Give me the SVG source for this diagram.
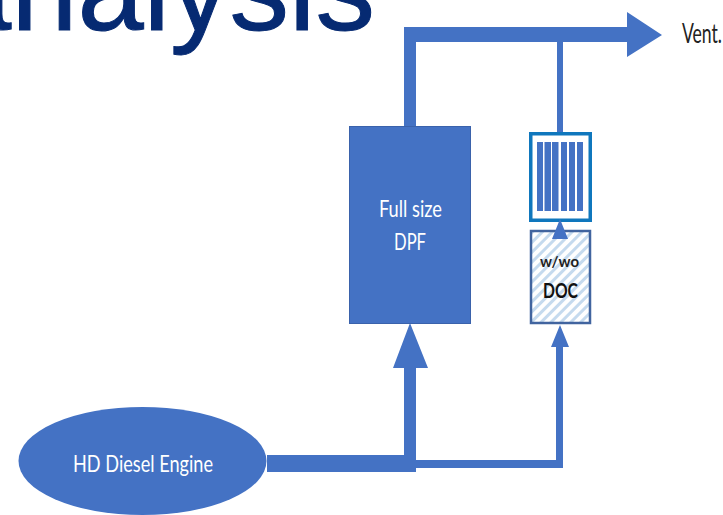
<svg xmlns="http://www.w3.org/2000/svg" width="723" height="515" viewBox="0 0 723 515">
<style>
.b{fill:#4472c4}
.t{font-family:Lato,"Liberation Sans",sans-serif;text-anchor:middle}
</style>
<defs>
<pattern id="hatch" width="7" height="7" patternUnits="userSpaceOnUse" patternTransform="rotate(45)">
<rect width="7" height="7" fill="#fff"/><rect width="3" height="7" fill="#c5daee"/>
</pattern>
</defs>
<rect width="723" height="515" fill="#fff"/>
<text x="375" y="30" font-family="Liberation Sans,sans-serif" font-size="119" fill="#062a72" stroke="#062a72" stroke-width="1" text-anchor="end">analysis</text>
<g id="connectors">
<path class="b" d="M404 27H627V12L662 35L627 57V42H416V127H404Z"/>
<rect class="b" x="557" y="42" width="6" height="91"/>
<path class="b" d="M267 455H404V368H393L410 323L428 368H416V460H556V347H551L560 325L569 347H563V468H416V472H267Z"/>
</g>
<g id="dpf">
<rect x="349.500" y="126.500" width="121" height="197" fill="#4472c4" stroke="#3a62ab"/>
<text class="t" x="410.500" y="217" font-size="23" fill="#fff" textLength="63" lengthAdjust="spacingAndGlyphs">Full size</text>
<text class="t" x="410" y="250" font-size="23" fill="#fff" textLength="32" lengthAdjust="spacingAndGlyphs">DPF</text>
</g>
<g id="filter">
<rect x="530.750" y="133.750" width="59.500" height="86.500" fill="#fff" stroke="#0f77bd" stroke-width="3.500"/>
<rect class="b" x="537" y="142" width="6" height="69"/>
<rect class="b" x="544.500" y="142" width="6.500" height="69"/>
<rect class="b" x="552" y="142" width="6.500" height="69"/>
<rect class="b" x="561" y="142" width="6" height="69"/>
<rect class="b" x="569" y="142" width="6" height="69"/>
<rect class="b" x="577" y="142" width="6" height="69"/>
</g>
<g id="doc">
<rect x="531" y="231" width="59" height="92" fill="url(#hatch)" stroke="#41649f" stroke-width="2.500"/>
<path class="b" d="M560 219L568 239H552Z"/>
<text class="t" x="559.500" y="267" font-size="15" font-weight="700" fill="#222" textLength="39" lengthAdjust="spacingAndGlyphs">w/wo</text>
<text class="t" x="560.500" y="298" font-size="21" font-weight="700" fill="#111" textLength="35" lengthAdjust="spacingAndGlyphs">DOC</text>
</g>
<g id="engine">
<ellipse cx="142.500" cy="461" rx="124" ry="54" fill="#4472c4"/>
<text class="t" x="143" y="472" font-size="23" fill="#fff" textLength="140" lengthAdjust="spacingAndGlyphs">HD Diesel Engine</text>
</g>
<g id="vent">
<text class="t" x="702" y="43" font-size="27" fill="#222" textLength="40" lengthAdjust="spacingAndGlyphs">Vent.</text>
</g>
</svg>
